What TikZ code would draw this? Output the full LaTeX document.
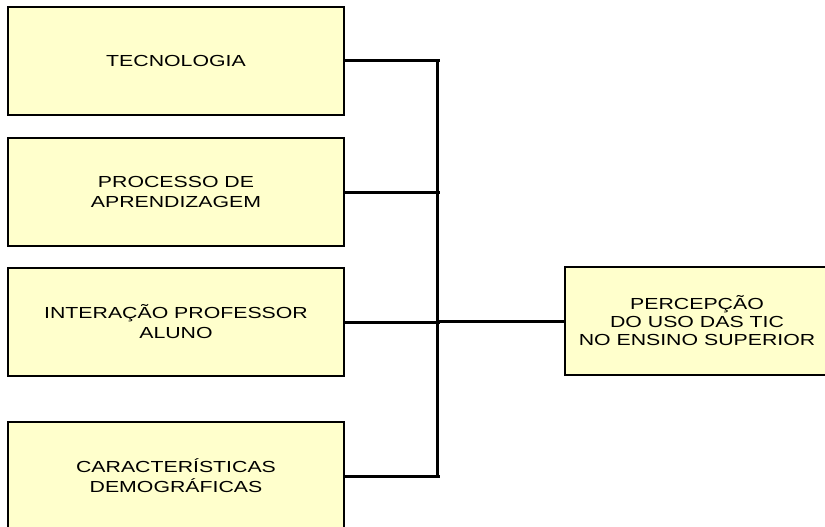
\documentclass[tikz,border=0pt]{standalone}
\usepackage{fontspec}
\setmainfont{Liberation Sans}[FakeStretch=1.33]
\definecolor{caixafundo}{HTML}{FFFFCC}
\tikzset{
  caixa/.style={draw=black, line width=1.8pt, fill=caixafundo, align=center,
    minimum width=336pt, minimum height=108pt, inner sep=0pt,
    font=\fontsize{16}{20}\selectfont},
  ligacao/.style={draw=black, line width=3pt}
}
\begin{document}
\begin{tikzpicture}[x=1pt,y=-1pt]
        \useasboundingbox (0,0) rectangle (825,527);
        \node[caixa] (tec) at (176,61) {TECNOLOGIA};
        \node[caixa] (apr) at (176,192) {PROCESSO DE\\APRENDIZAGEM};
        \node[caixa] (int) at (176,322) {INTERAÇÃO PROFESSOR\\ALUNO};
        \node[caixa] (dem) at (176,476) {CARACTERÍSTICAS\\DEMOGRÁFICAS};
        \node[caixa, minimum width=264pt, font=\fontsize{16}{18}\selectfont] (perc) at (697,321)
              {PERCEPÇÃO\\DO USO DAS TIC\\NO ENSINO SUPERIOR};
        \coordinate (bus) at (437,0);
        \coordinate (fim) at (440,0);
        \draw[ligacao] (bus |- tec.east) -- (bus |- dem.east);
        \draw[ligacao] (tec.east) -- (tec.east -| fim);
        \draw[ligacao] (apr.east) -- (apr.east -| fim);
        \draw[ligacao] (int.east) -- (int.east -| fim);
        \draw[ligacao] (dem.east) -- (dem.east -| fim);
        \draw[ligacao] (bus |- perc.west) -- (perc.west);
    \end{tikzpicture}
\end{document}
